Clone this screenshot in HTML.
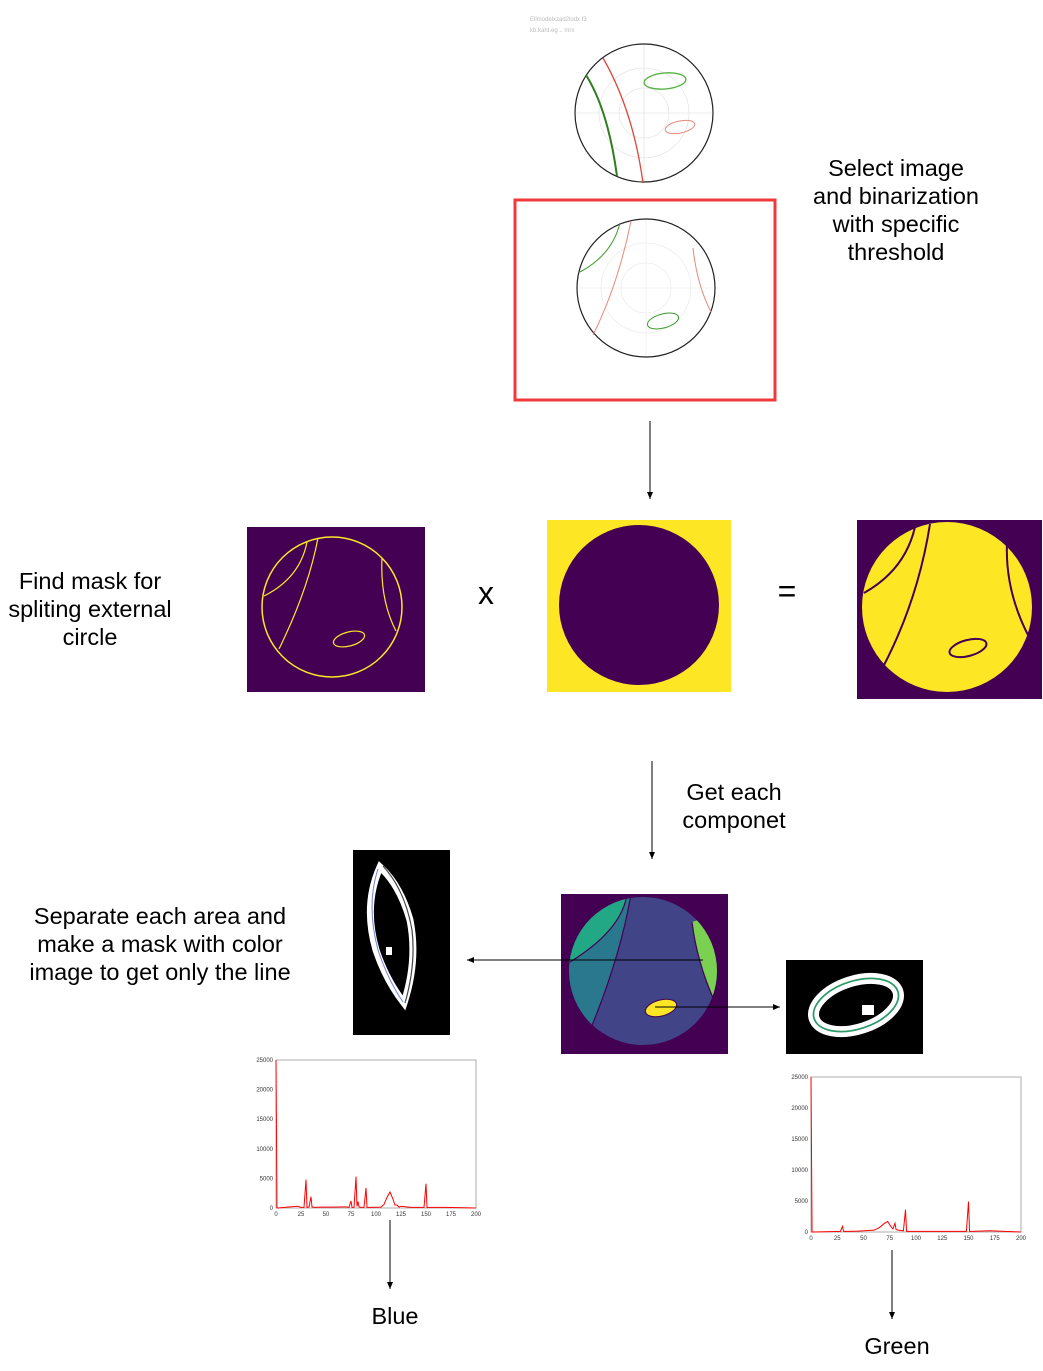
<!DOCTYPE html>
<html><head><meta charset="utf-8">
<style>
html,body{margin:0;padding:0;background:#fff;}
svg{display:block;font-family:"Liberation Sans",sans-serif;}
.lbl{font-size:23.5px;fill:#000;text-anchor:middle;}
.tk{font-size:6px;fill:#333;}
</style></head>
<body>
<svg id="root" width="1043" height="1371" viewBox="0 0 1043 1371" xmlns="http://www.w3.org/2000/svg">
<defs>
<marker id="ah" markerWidth="8" markerHeight="8" refX="7" refY="4" orient="auto"><path d="M0,1 L7,4 L0,7 Z" fill="#000"/></marker>
<clipPath id="c1"><circle cx="644" cy="113" r="69"/></clipPath>
<clipPath id="c2"><circle cx="646" cy="288" r="69"/></clipPath>
<clipPath id="c3"><circle cx="643" cy="971" r="74"/></clipPath>
</defs>

<g>
<text x="530" y="21" font-size="6" fill="#bbb">Ellmodelxzad2lodx f3</text>
<text x="530" y="32" font-size="6" fill="#bbb">kb.kaht.eg .. mrx</text>
<g clip-path="url(#c1)" stroke="#ddd" stroke-width="0.6" fill="none">
<circle cx="644" cy="113" r="25"/><circle cx="644" cy="113" r="45"/>
<line x1="575" y1="113" x2="713" y2="113"/><line x1="644" y1="44" x2="644" y2="183"/>
</g>
<circle cx="644" cy="113" r="69" fill="none" stroke="#222" stroke-width="1.2"/>
<path d="M586,75 Q608,110 617,176" fill="none" stroke="#2e7d1e" stroke-width="2"/>
<path d="M603,58 Q633,110 643,183" fill="none" stroke="#d9483b" stroke-width="1.3"/>
<ellipse cx="665" cy="81" rx="21" ry="8" transform="rotate(-5 665 81)" fill="none" stroke="#4caf3a" stroke-width="1.3"/>
<ellipse cx="680" cy="127" rx="15" ry="6" transform="rotate(-12 680 127)" fill="none" stroke="#e88b7d" stroke-width="1"/>
</g>

<rect x="515" y="200" width="260" height="200" fill="none" stroke="#f03a3a" stroke-width="3"/>
<g>
<g clip-path="url(#c2)" stroke="#e6e6e6" stroke-width="0.6" fill="none">
<circle cx="646" cy="288" r="25"/><circle cx="646" cy="288" r="45"/>
<line x1="577" y1="288" x2="715" y2="288"/><line x1="646" y1="219" x2="646" y2="357"/>
</g>
<circle cx="646" cy="288" r="69" fill="none" stroke="#222" stroke-width="1.2"/>
<path d="M580,272 Q612,255 620,223" fill="none" stroke="#3c9a2a" stroke-width="1"/>
<path d="M631,221 Q618,285 593,335" fill="none" stroke="#e58a7a" stroke-width="1"/>
<path d="M693,248 Q697,285 711,312" fill="none" stroke="#e58a7a" stroke-width="1"/>
<ellipse cx="663" cy="321" rx="16" ry="7" transform="rotate(-15 663 321)" fill="none" stroke="#3c9a2a" stroke-width="1"/>
</g>
<text class="lbl"><tspan x="896" y="176">Select image</tspan><tspan x="896" dy="28">and binarization</tspan><tspan x="896" dy="28">with specific</tspan><tspan x="896" dy="28">threshold</tspan></text>

<line x1="650" y1="421" x2="650" y2="499" stroke="#000" stroke-width="1" marker-end="url(#ah)"/>

<g>
<rect x="247" y="527" width="178" height="165" fill="#440154"/>
<circle cx="332" cy="607" r="70" fill="none" stroke="#fde725" stroke-width="1.5"/>
<path d="M264,596 Q300,578 307,542" fill="none" stroke="#fde725" stroke-width="1.2"/>
<path d="M318,538 Q308,590 279,649" fill="none" stroke="#fde725" stroke-width="1.2"/>
<path d="M382,558 Q380,600 396,631" fill="none" stroke="#fde725" stroke-width="1.2"/>
<ellipse cx="349" cy="639" rx="16" ry="7" transform="rotate(-15 349 639)" fill="none" stroke="#fde725" stroke-width="1.2"/>
</g>
<text class="lbl"><tspan x="90" y="589">Find mask for</tspan><tspan x="90" dy="28">spliting external</tspan><tspan x="90" dy="28">circle</tspan></text>
<text x="486" y="604" class="lbl" style="font-size:32px">x</text>
<g>
<rect x="547" y="520" width="184" height="172" fill="#fde725"/>
<circle cx="639" cy="605" r="80" fill="#440154"/>
</g>
<text x="787" y="602" class="lbl" style="font-size:32px">=</text>
<g>
<rect x="857" y="520" width="185" height="179" fill="#440154"/>
<circle cx="947" cy="607" r="85" fill="#fde725"/>
<path d="M864,593 Q905,570 915,527" fill="none" stroke="#440154" stroke-width="2"/>
<path d="M930,524 Q918,600 883,667" fill="none" stroke="#440154" stroke-width="2"/>
<path d="M1007,543 Q1005,590 1028,635" fill="none" stroke="#440154" stroke-width="2"/>
<ellipse cx="968" cy="648" rx="19" ry="8" transform="rotate(-15 968 648)" fill="none" stroke="#440154" stroke-width="2"/>
</g>

<line x1="652" y1="761" x2="652" y2="859" stroke="#000" stroke-width="1" marker-end="url(#ah)"/>
<text class="lbl"><tspan x="734" y="800">Get each</tspan><tspan x="734" dy="28">componet</tspan></text>

<g>
<rect x="561" y="894" width="167" height="160" fill="#440154"/>
<g clip-path="url(#c3)">
<rect x="561" y="894" width="167" height="160" fill="#414487"/>
<path d="M561,894 L631,894 Q620,960 586,1040 L561,1054 Z" fill="#2a788e"/>
<path d="M561,894 L627,894 Q622,930 570,962 L561,962 Z" fill="#22a884"/>
<path d="M627,894 Q622,930 570,962" fill="none" stroke="#440154" stroke-width="1.2"/>
<path d="M631,894 Q620,960 586,1040" fill="none" stroke="#440154" stroke-width="1.2"/>
<path d="M692,922 Q697,962 714,1000 L728,1000 L728,910 Z" fill="#7ad151"/>
<path d="M692,922 Q697,962 714,1000" fill="none" stroke="#440154" stroke-width="1.2"/>
</g>
<ellipse cx="661" cy="1008" rx="16" ry="8" transform="rotate(-15 661 1008)" fill="#fde725" stroke="#440154" stroke-width="1"/>
</g>
<line x1="703" y1="960" x2="467" y2="960" stroke="#000" stroke-width="1" marker-end="url(#ah)"/>
<line x1="655" y1="1007" x2="780" y2="1007" stroke="#000" stroke-width="1" marker-end="url(#ah)"/>
<text class="lbl"><tspan x="160" y="924">Separate each area and</tspan><tspan x="160" dy="28">make a mask with color</tspan><tspan x="160" dy="28">image to get only the line</tspan></text>

<g>
<rect x="353" y="850" width="97" height="185" fill="#000"/>
<path d="M380,867 Q363,905 376,950 Q386,980 404,1003 Q418,960 410,920 Q400,885 380,867 Z" fill="none" stroke="#fff" stroke-width="7"/>
<path d="M378,869 Q366,905 378,950 Q388,980 403,1002" fill="none" stroke="#6f7ee0" stroke-width="1"/>
<path d="M383,866 Q405,890 412,930 Q416,965 405,1003" fill="none" stroke="#444" stroke-width="1.2"/>
<rect x="386" y="947" width="6" height="8" fill="#fff"/>
</g>
<g>
<rect x="786" y="960" width="137" height="94" fill="#000"/>
<ellipse cx="856" cy="1005" rx="44" ry="24" transform="rotate(-18 856 1005)" fill="none" stroke="#fff" stroke-width="11"/>
<ellipse cx="856" cy="1005" rx="44" ry="24" transform="rotate(-18 856 1005)" fill="none" stroke="#2e9a6a" stroke-width="1.8"/>
<rect x="862" y="1005" width="12" height="10" fill="#fff"/>
</g>

<g id="h1"></g>
<g id="h2"></g>

<line x1="390" y1="1220" x2="390" y2="1289" stroke="#000" stroke-width="1" marker-end="url(#ah)"/>
<text x="395" y="1324" class="lbl">Blue</text>
<line x1="892" y1="1250" x2="892" y2="1319" stroke="#000" stroke-width="1" marker-end="url(#ah)"/>
<text x="897" y="1354" class="lbl">Green</text>
</svg>
<script>
const xTicks=[0,25,50,75,100,125,150,175,200];
const yTicks=[0,5000,10000,15000,20000,25000];
const blueBins=[0,1,2,14,22,25,28,30,31,33,35,36,38,45,55,70,73,75,76,78,80,81,82,83,85,88,90,91,93,105,108,111,114,117,119,121,123,125,135,148,150,151,153,170,200];
const blueVals=[30000,0,0,200,300,100,100,4800,100,200,1900,200,100,150,150,200,100,1200,100,100,5300,300,1100,200,100,100,3400,100,100,150,600,1800,2700,1500,500,500,150,300,100,100,4100,100,100,100,0];
const greenBins=[0,1,2,28,30,31,35,45,60,65,70,73,76,78,80,81,83,88,90,91,93,120,148,150,151,153,170,200];
const greenVals=[30000,0,0,100,900,100,100,150,300,700,1400,1700,900,500,1400,400,300,200,3600,100,100,100,100,4900,100,100,200,0];

function hist(gid,x0,y0,x1,y1,bins,vals){
  const g=document.getElementById(gid);
  const ns='http://www.w3.org/2000/svg';
  const sx=v=>x0+(v/200)*(x1-x0), sy=v=>y1-(Math.min(v,25000)/25000)*(y1-y0);
  const r=document.createElementNS(ns,'rect');
  r.setAttribute('x',x0);r.setAttribute('y',y0);r.setAttribute('width',x1-x0);r.setAttribute('height',y1-y0);
  r.setAttribute('fill','#fff');r.setAttribute('stroke','#999');r.setAttribute('stroke-width','0.8');
  
  
  g.appendChild(r);
  xTicks.forEach(t=>{
    const tx=document.createElementNS(ns,'text');
    tx.setAttribute('x',sx(t));tx.setAttribute('y',y1+8);tx.setAttribute('class','tk');tx.setAttribute('text-anchor','middle');
    tx.textContent=t;
    
    
    g.appendChild(tx);
  });
  yTicks.forEach(t=>{
    const tx=document.createElementNS(ns,'text');
    tx.setAttribute('x',x0-3);tx.setAttribute('y',sy(t)+2);tx.setAttribute('class','tk');tx.setAttribute('text-anchor','end');
    tx.textContent=t;
    
    
    g.appendChild(tx);
  });
  const p=document.createElementNS(ns,'polyline');
  p.setAttribute('points',bins.map((b,i)=>sx(b)+','+sy(vals[i])).join(' '));
  p.setAttribute('fill','none');p.setAttribute('stroke','#f00');p.setAttribute('stroke-width','1');
  
  
  g.appendChild(p);
}
hist('h1',276,1060,476,1208,blueBins,blueVals);
hist('h2',811,1077,1021,1232,greenBins,greenVals);
</script>
</body></html>
